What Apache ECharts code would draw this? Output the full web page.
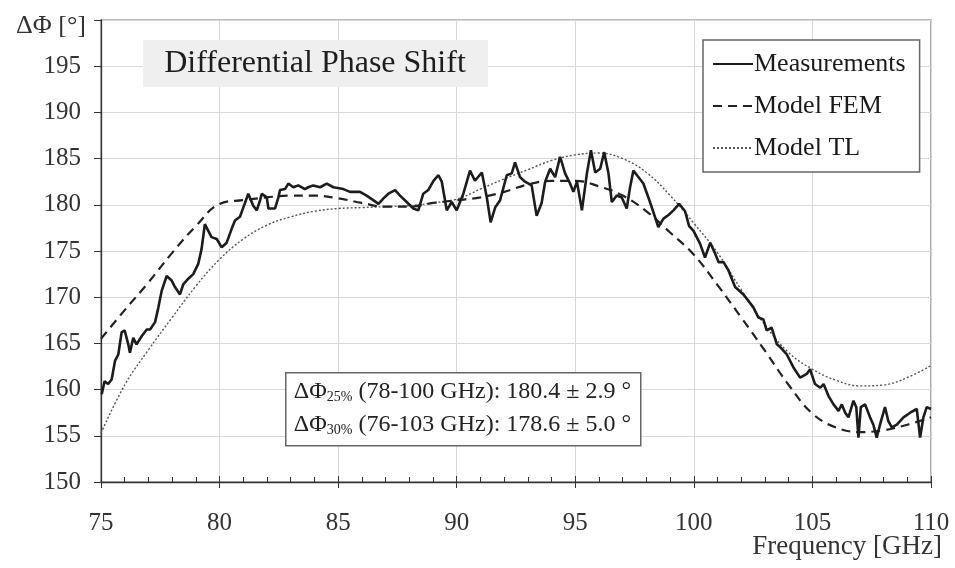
<!DOCTYPE html>
<html>
<head>
<meta charset="utf-8">
<script src="https://cdn.jsdelivr.net/npm/echarts@6/dist/echarts.min.js"></script>
<style>html,body{margin:0;padding:0;background:#fff}#c{width:955px;height:568px}</style>
</head>
<body>
<div id="c"></div>
<script>
const seriesNames = ['Measurements', 'Model FEM', 'Model TL'];
const xTicks = [75, 80, 85, 90, 95, 100, 105, 110];
const yTicks = [150, 155, 160, 165, 170, 175, 180, 185, 190, 195];

const measFreq = [75.03,75.15,75.3,75.45,75.59,75.73,75.87,76.0,76.15,76.22,76.36,76.5,76.72,76.93,77.07,77.28,77.42,77.56,77.77,77.98,78.12,78.33,78.47,78.68,78.89,79.1,79.24,79.38,79.52,79.66,79.88,80.09,80.3,80.51,80.65,80.86,81.0,81.21,81.42,81.57,81.71,81.78,81.99,82.06,82.34,82.48,82.55,82.76,82.9,83.11,83.32,83.6,83.74,83.95,84.24,84.52,84.8,85.22,85.5,85.92,86.2,86.48,86.7,86.91,87.12,87.4,87.61,87.89,88.17,88.38,88.59,88.8,89.02,89.23,89.37,89.58,89.79,90.0,90.28,90.56,90.77,91.06,91.27,91.43,91.62,91.83,92.11,92.32,92.46,92.67,92.88,93.16,93.37,93.58,93.73,93.94,94.15,94.36,94.57,94.78,94.92,95.07,95.28,95.49,95.66,95.84,96.05,96.22,96.4,96.54,96.75,96.96,97.17,97.31,97.45,97.66,97.87,98.15,98.36,98.5,98.72,98.93,99.14,99.38,99.63,99.8,99.98,100.26,100.47,100.69,100.9,101.04,101.25,101.46,101.74,102.09,102.3,102.51,102.72,102.93,103.07,103.28,103.5,103.64,103.92,104.2,104.48,104.76,104.9,105.11,105.33,105.47,105.68,105.89,106.1,106.24,106.38,106.52,106.73,106.85,106.94,107.04,107.22,107.43,107.57,107.71,107.85,108.06,108.2,108.35,108.56,108.84,109.12,109.4,109.54,109.68,109.82,110.0];
const measPhase = [159.5,160.9,160.6,161.1,163.1,163.8,166.2,166.4,164.9,164.0,165.6,164.9,165.8,166.5,166.5,167.3,168.9,170.7,172.3,171.8,171.1,170.3,171.4,172.0,172.5,173.6,175.2,177.9,177.2,176.5,176.3,175.4,175.9,177.4,178.3,178.7,179.7,181.2,179.9,179.4,180.5,181.2,180.8,179.6,179.6,180.8,181.6,181.7,182.3,181.9,182.1,181.7,181.9,182.1,181.9,182.3,181.9,181.7,181.4,181.4,181.0,180.5,180.1,180.7,181.2,181.6,181.0,180.3,179.6,179.4,181.2,181.6,182.6,183.2,182.5,179.4,180.3,179.4,181.2,183.7,182.6,183.5,180.8,178.1,179.7,180.5,183.2,183.4,184.6,183.0,182.5,182.1,178.8,180.2,182.5,183.9,183.0,185.2,183.4,182.3,181.4,182.5,179.4,183.4,185.9,183.5,183.9,185.7,183.4,180.3,181.0,180.8,179.6,181.9,183.7,183.0,182.3,180.3,178.7,177.6,178.5,178.9,179.4,180.1,179.3,177.7,177.2,175.8,174.3,175.9,174.7,173.8,173.8,172.9,171.1,170.3,169.6,168.9,167.8,167.6,166.4,166.7,164.9,164.6,163.8,162.4,161.3,161.7,162.2,160.6,160.2,160.6,159.3,158.4,157.7,158.4,157.5,157.0,158.8,158.1,154.8,158.1,158.4,157.0,156.2,154.8,156.2,158.1,156.6,155.9,156.2,157.0,157.5,157.9,154.8,157.0,158.1,157.9];

const modelFreq = [75,76,77,78,79,80,81,82,83,84,85,86,87,88,89,90,91,92,93,94,95,96,97,98,99,100,101,102,103,104,105,106,107,108,109,110];
const femPhase = [165.5,168.6,171.6,174.8,177.7,180.1,180.5,180.8,181.0,181.0,180.7,180.2,179.8,179.8,180.2,180.5,180.8,181.4,182.2,182.6,182.6,182.0,181.0,179.3,177.0,174.6,171.3,167.8,164.2,160.5,157.4,155.9,155.4,155.6,156.2,157.0];
const tlPhase = [155.3,160.5,164.3,167.8,171.2,174.1,176.3,177.8,178.7,179.3,179.6,179.7,179.8,179.9,180.2,180.6,181.7,182.8,183.8,184.8,185.4,185.6,185.0,183.5,181.0,178.0,174.8,170.8,167.0,164.0,162.2,161.0,160.4,160.5,161.3,162.6];

const serif = '"Liberation Serif", "DejaVu Serif", serif';
const pairs = (xs, ys) => xs.map((x, i) => [x, ys[i]]);

const chart = echarts.init(document.getElementById('c'), null, {renderer: 'canvas'});
chart.setOption({
  animation: false,
  backgroundColor: '#fff',
  textStyle: {fontFamily: serif},
  grid: {left: 101, right: 24, top: 20, bottom: 86, show: true, borderColor: '#777', borderWidth: 1.2},
  legend: {
    data: seriesNames,
    orient: 'vertical',
    left: 703, top: 40,
    padding: [11, 14, 11, 9],
    itemGap: 16,
    itemWidth: 40, itemHeight: 26,
    borderColor: '#666', borderWidth: 1.5,
    backgroundColor: '#fff',
    itemStyle: {opacity: 0},
    textStyle: {fontFamily: serif, fontSize: 26, color: '#1a1a1a', padding: [0, 0, 0, -4]}
  },
  xAxis: [{
    type: 'value', min: xTicks[0], max: xTicks[xTicks.length - 1], interval: 5,
    axisLine: {lineStyle: {color: '#333', width: 1.3}},
    axisTick: {show: true, inside: true, length: 6, lineStyle: {color: '#333'}},
    minorTick: {show: true, splitNumber: 5, length: 5, lineStyle: {color: '#333'}},
    axisLabel: {fontSize: 25, color: '#333', margin: 29, fontFamily: serif},
    splitLine: {show: true, lineStyle: {color: '#d8d8d8', width: 1}}
  }, {
    type: 'value', min: xTicks[0], max: xTicks[xTicks.length - 1], interval: 5, position: 'bottom',
    axisLine: {show: false},
    axisTick: {show: true, inside: false, length: 6, lineStyle: {color: '#333'}},
    axisLabel: {show: false}, splitLine: {show: false}
  }],
  yAxis: {
    type: 'value', min: 150, max: 200, interval: 5,
    axisLine: {show: true, lineStyle: {color: '#333', width: 1.3}},
    axisTick: {show: true, inside: false, length: 7, lineStyle: {color: '#333'}},
    axisLabel: {fontSize: 25, color: '#333', margin: 20, fontFamily: serif,
      formatter: v => (yTicks.indexOf(v) >= 0 ? String(v) : '')},
    splitLine: {show: true, lineStyle: {color: '#d8d8d8', width: 1}}
  },
  series: [{
    name: seriesNames[0], type: 'line', symbol: 'none', data: pairs(measFreq, measPhase),
    lineStyle: {color: '#1c1c1c', width: 2.6}, itemStyle: {color: '#1c1c1c'}, z: 5
  }, {
    name: seriesNames[1], type: 'line', symbol: 'none', smooth: 0.4, data: pairs(modelFreq, femPhase),
    lineStyle: {color: '#222', width: 2.2, type: [9, 6]}, itemStyle: {color: '#222'}, z: 4
  }, {
    name: seriesNames[2], type: 'line', symbol: 'none', smooth: 0.4, data: pairs(modelFreq, tlPhase),
    lineStyle: {color: '#555', width: 1.4, type: [2, 2]}, itemStyle: {color: '#555'}, z: 3
  }],
  graphic: [
    {type: 'text', left: 16, top: 13, z: 100, style: {text: 'ΔΦ [°]', font: '26px ' + serif, fill: '#333'}},
    {type: 'text', right: 13, top: 533, z: 100, style: {text: 'Frequency [GHz]', font: '27px ' + serif, fill: '#333'}},
    {type: 'group', left: 143, top: 40, z: 100, children: [
      {type: 'rect', z: 100, shape: {x: 0, y: 0, width: 345, height: 47}, style: {fill: '#efefef'}},
      {type: 'text', z: 101, x: 172, y: 24, style: {text: 'Differential Phase Shift', font: '32px ' + serif, fill: '#1e1e1e', align: 'center', verticalAlign: 'middle'}}
    ]},
    {type: 'group', left: 285, top: 372, z: 100, children: [
      {type: 'rect', z: 100, shape: {x: 0, y: 0, width: 355, height: 73}, style: {fill: '#fff', stroke: '#666', lineWidth: 1.5}},
      {type: 'text', z: 101, x: 8, y: 19, style: {
        text: 'ΔΦ{sub|25%} (78-100 GHz): 180.4 ± 2.9 °', font: '24px ' + serif, fill: '#222', verticalAlign: 'middle',
        rich: {sub: {fontSize: 14, fontFamily: serif, fill: '#222', padding: [12, 0, 0, 0]}}
      }},
      {type: 'text', z: 101, x: 8, y: 52, style: {
        text: 'ΔΦ{sub|30%} (76-103 GHz): 178.6 ± 5.0 °', font: '24px ' + serif, fill: '#222', verticalAlign: 'middle',
        rich: {sub: {fontSize: 14, fontFamily: serif, fill: '#222', padding: [12, 0, 0, 0]}}
      }}
    ]}
  ]
});
</script>
</body>
</html>
